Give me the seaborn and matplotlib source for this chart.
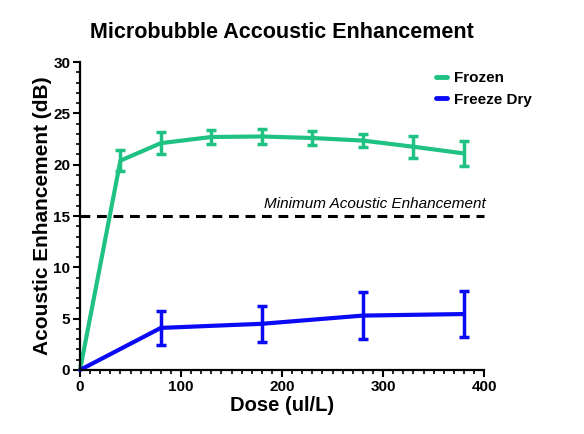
import matplotlib
matplotlib.use("Agg")
import matplotlib.pyplot as plt
import seaborn as sns
import pandas as pd
from matplotlib.ticker import MultipleLocator

sns.set_theme(style="ticks")
plt.rcParams['font.family'] = ['Liberation Sans', 'DejaVu Sans']
plt.rcParams['text.color'] = 'black'
plt.rcParams['axes.labelcolor'] = 'black'
plt.rcParams['xtick.color'] = 'black'
plt.rcParams['ytick.color'] = 'black'

frozen_dose = [0, 40, 80, 130, 180, 230, 280, 330, 380]
frozen_mean = [0, 20.4, 22.1, 22.7, 22.75, 22.6, 22.35, 21.75, 21.1]
frozen_err = [0, 1.0, 1.1, 0.7, 0.7, 0.65, 0.6, 1.05, 1.25]

fd_dose = [0, 80, 180, 280, 380]
fd_mean = [0, 4.1, 4.5, 5.3, 5.45]
fd_err = [0, 1.65, 1.75, 2.3, 2.25]

threshold = 15
green = "#1FC282"
blue = "#0A0AF5"

df = pd.concat([
    pd.DataFrame({"Dose": frozen_dose, "AE": frozen_mean, "err": frozen_err, "Group": "Frozen"}),
    pd.DataFrame({"Dose": fd_dose, "AE": fd_mean, "err": fd_err, "Group": "Freeze Dry"}),
], ignore_index=True)

fig = plt.figure(figsize=(5.84, 4.34), dpi=100)
ax = fig.add_axes([0.137, 0.1475, 0.692, 0.7095])

sns.lineplot(data=df, x="Dose", y="AE", hue="Group", palette={"Frozen": green, "Freeze Dry": blue},
             linewidth=3, ax=ax, errorbar=None, sort=False)

for grp, col in [("Frozen", green), ("Freeze Dry", blue)]:
    sub = df[(df.Group == grp) & (df.err > 0)]
    ax.errorbar(sub.Dose, sub.AE, yerr=sub.err, fmt="none", ecolor=col,
                elinewidth=2.5, capsize=3.5, capthick=2.5, zorder=3)

ax.axhline(threshold, color="black", linestyle=(0, (3.2, 2.2)), linewidth=2.2, zorder=1)
ax.text(401.5, threshold + 0.75, "Minimum Acoustic Enhancement", style="italic",
        ha="right", va="baseline", fontsize=11, color="black")

ax.set_xlim(0, 400)
ax.set_ylim(0, 30)
ax.xaxis.set_major_locator(MultipleLocator(100))
ax.xaxis.set_minor_locator(MultipleLocator(10))
ax.yaxis.set_major_locator(MultipleLocator(5))
ax.yaxis.set_minor_locator(MultipleLocator(1))
for s in ["top", "right"]:
    ax.spines[s].set_visible(False)
for s in ["left", "bottom"]:
    ax.spines[s].set_linewidth(1.6)
    ax.spines[s].set_color("black")
ax.tick_params(which="major", length=5, width=1.5, labelsize=11, color="black", pad=2)
ax.tick_params(which="minor", length=3, width=1.2, color="black")
for lab in ax.get_xticklabels() + ax.get_yticklabels():
    lab.set_fontweight("bold")

ax.set_xlabel("Dose (ul/L)", fontsize=14.5, fontweight="bold", labelpad=2)
ax.set_ylabel("Acoustic Enhancement (dB)", fontsize=15, fontweight="bold", labelpad=1)
fig.text(0.483, 1 - 38 / 434, "Microbubble Accoustic Enhancement", fontsize=15.5,
         fontweight="bold", ha="center", va="baseline", color="black")

leg = ax.legend(loc="upper left", frameon=False, handlelength=0.7, fontsize=11,
                bbox_to_anchor=((436 - 80) / 404, (370 - 71) / 308), borderaxespad=0,
                borderpad=0, labelspacing=0.5, handletextpad=0.5)
leg.set_title(None)
for t in leg.get_texts():
    t.set_fontweight("bold")
    t.set_color("black")
for l in leg.get_lines():
    l.set_linewidth(3.5)

ax.margins(0)
for ln in ax.lines:
    ln.set_clip_on(False)

fig.savefig("out.png", dpi=100)
